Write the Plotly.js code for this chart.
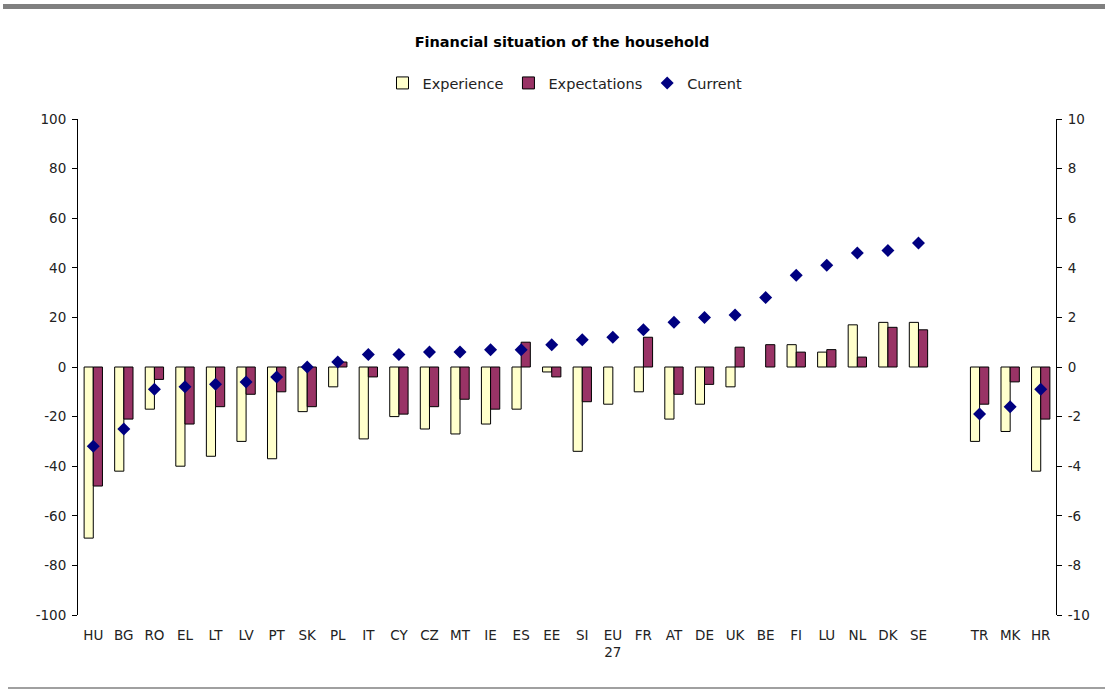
<!DOCTYPE html>
<html>
<head>
<meta charset="utf-8">
<script src="https://cdn.plot.ly/plotly-3.0.1.min.js"></script>
<style>html,body{margin:0;padding:0;background:#fff;}#chart{width:1105px;height:689px;}</style>
</head>
<body>
<div id="chart"></div>
<script>
const categories = ['HU','BG','RO','EL','LT','LV','PT','SK','PL','IT','CY','CZ','MT','IE','ES','EE','SI','EU<br>27','FR','AT','DE','UK','BE','FI','LU','NL','DK','SE',' ','TR','MK','HR'];
const experience = [-69,-42,-17,-40,-36,-30,-37,-18,-8,-29,-20,-25,-27,-23,-17,-2,-34,-15,-10,-21,-15,-8,null,9,6,17,18,18,null,-30,-26,-42];
const expectations = [-48,-21,-5,-23,-16,-11,-10,-16,2,-4,-19,-16,-13,-17,10,-4,-14,null,12,-11,-7,8,9,6,7,4,16,15,null,-15,-6,-21];
const current = [-3.2,-2.5,-0.9,-0.8,-0.7,-0.6,-0.4,0.0,0.2,0.5,0.5,0.6,0.6,0.7,0.7,0.9,1.1,1.2,1.5,1.8,2.0,2.1,2.8,3.7,4.1,4.6,4.7,5.0,null,-1.9,-1.6,-0.9];
const leftTicks = [-100,-80,-60,-40,-20,0,20,40,60,80,100];
const rightTicks = [-10,-8,-6,-4,-2,0,2,4,6,8,10];

const FONT = 'DejaVu Sans, Verdana, sans-serif';
const n = categories.length;
const boundaries = [];
for (let i = 0; i <= n; i++) boundaries.push(i - 0.5);
const hyphen = v => String(v).replace('\u2212', '-');

const traces = [
  {type:'bar', name:'Experience', x:categories, y:experience,
   marker:{color:'#FFFFCC', line:{color:'#000000', width:1}}, xaxis:'x', yaxis:'y'},
  {type:'bar', name:'Expectations', x:categories, y:expectations,
   marker:{color:'#993366', line:{color:'#000000', width:1}}, xaxis:'x', yaxis:'y'},
  {type:'scatter', mode:'markers', name:'Current', x:categories, y:current,
   marker:{symbol:'diamond', color:'#000080', size:10}, xaxis:'x', yaxis:'y2'}
];

const layout = {
  width:1105, height:689,
  margin:{l:78, r:49, t:119, b:74, pad:0},
  paper_bgcolor:'#ffffff', plot_bgcolor:'#ffffff',
  font:{family:FONT, size:13, color:'#222222'},
  showlegend:true,
  title:{text:'<b>Financial situation of the household</b>', font:{family:FONT, size:14.5, color:'#000000'},
         x:562/1105, xanchor:'center', y:1-42/689, yanchor:'middle'},
  legend:{orientation:'h', x:(565-78)/978, xanchor:'center', y:(615-83)/496, yanchor:'middle',
          font:{family:FONT, size:14.5, color:'#222222'}, itemwidth:30, traceorder:'normal'},
  barmode:'group', bargap:0.4, bargroupgap:0,
  xaxis:{type:'category', range:[-0.5, n-0.5], showline:false, ticks:'', showgrid:false, zeroline:false,
         tickfont:{family:FONT, size:13.5, color:'#222222'}, ticklabelstandoff:10, fixedrange:true},
  xaxis2:{overlaying:'x', anchor:'free', position:0.5, range:[-0.5, n-0.5], showline:true, linecolor:'#444444',
          linewidth:1, ticks:'outside', ticklen:4, tickcolor:'#444444', tickvals:boundaries,
          showticklabels:false, showgrid:false, zeroline:false},
  yaxis:{range:[-100,100], tickvals:leftTicks, ticktext:leftTicks.map(hyphen), showline:true, linecolor:'#000000', linewidth:1,
         ticks:'outside', ticklen:5, tickcolor:'#000000', showgrid:false, zeroline:false,
         tickfont:{family:FONT, size:13.5, color:'#222222'}, ticklabelstandoff:3},
  yaxis2:{overlaying:'y', side:'right', anchor:'x', range:[-10,10], tickvals:rightTicks, ticktext:rightTicks.map(hyphen), showline:true,
          linecolor:'#000000', linewidth:1, ticks:'outside', ticklen:5, tickcolor:'#000000',
          showgrid:false, zeroline:false, tickfont:{family:FONT, size:13.5, color:'#222222'}, ticklabelstandoff:3},
  yaxis3:{overlaying:'y', side:'right', anchor:'x', range:[-10,10], tickvals:rightTicks, showline:false,
          ticks:'inside', ticklen:5, tickcolor:'#000000', showticklabels:false, showgrid:false, zeroline:false},
  shapes:[
    {type:'rect', xref:'paper', yref:'paper', x0:(3-78)/978, x1:(1105-78)/978, y0:(615-9)/496, y1:(615-4)/496,
     fillcolor:'#808080', line:{width:0}},
    {type:'line', xref:'paper', yref:'paper', x0:(8-78)/978, x1:(1105-78)/978, y0:(615-688)/496, y1:(615-688)/496,
     line:{color:'#808080', width:1.5}}
  ]
};

Plotly.newPlot('chart', traces, layout, {displayModeBar:false, staticPlot:true});
</script>
</body>
</html>
